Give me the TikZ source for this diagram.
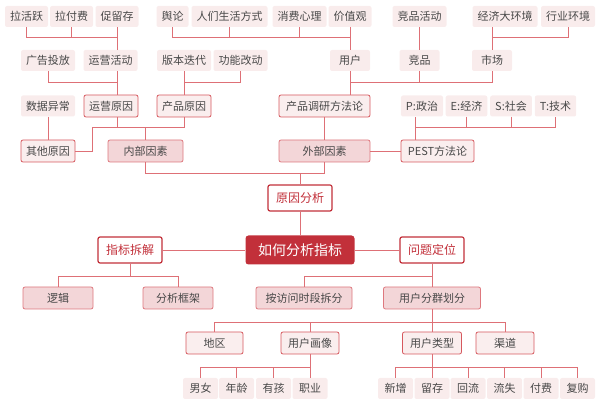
\documentclass[tikz,border=0pt]{standalone}
\usepackage{fontspec}
\setmainfont{Noto Sans CJK SC}
\usepackage{xcolor}
\usetikzlibrary{positioning}

\definecolor{zhred}{RGB}{194,48,58}
\definecolor{boxred}{RGB}{214,88,94}
\definecolor{midred}{RGB}{222,120,126}
\definecolor{linered}{RGB}{222,112,118}
\definecolor{leaffill}{RGB}{249,236,236}
\definecolor{subfill}{RGB}{250,238,238}
\definecolor{pinkfill}{RGB}{243,214,216}
\definecolor{txtgray}{RGB}{72,72,72}

\tikzset{
  leaf/.style={fill=leaffill, text=txtgray, rounded corners=2pt,
    font=\fontsize{11}{13}\selectfont, inner xsep=5pt, inner ysep=0pt,
    minimum height=21pt},
  sub/.style={leaf, fill=subfill, draw=boxred, line width=0.8pt, minimum height=22pt},
  mid/.style={sub, fill=pinkfill, draw=midred},
  topic/.style={draw=zhred, line width=1.2pt, fill=white, text=zhred,
    rounded corners=2pt, minimum width=64pt, minimum height=26pt,
    font=\fontsize{12}{14}\selectfont},
  root/.style={fill=zhred, text=white, rounded corners=3pt,
    minimum width=109pt, minimum height=29pt,
    font=\fontsize{14}{16}\selectfont},
  conn/.style={draw=linered, line width=0.8pt}
}

\begin{document}
\begin{tikzpicture}[x=1pt,y=-1pt]
\useasboundingbox (0,0) rectangle (603,411);

% top row
\node[leaf] (lhy) at (26.5,16.5) {拉活跃};
\node[leaf] (lff) at (71.5,16.5) {拉付费};
\node[leaf] (cuc) at (117,16.5) {促留存};
\node[leaf] (yl) at (172.5,16.5) {舆论};
\node[leaf] (rmsh) at (229.5,16.5) {人们生活方式};
\node[leaf] (xfxl) at (299.5,16.5) {消费心理};
\node[leaf] (jzg) at (350,16.5) {价值观};
\node[leaf] (jphd) at (419.5,16.5) {竞品活动};
\node[leaf] (jjdhj) at (505,16.5) {经济大环境};
\node[leaf] (hyhj) at (568,16.5) {行业环境};

% second row
\node[leaf] (ggtf) at (48,60.5) {广告投放};
\node[leaf] (yyhd) at (110.5,60.5) {运营活动};
\node[leaf] (bbdd) at (184,60.5) {版本迭代};
\node[leaf] (gngd) at (240.5,60.5) {功能改动};
\node[leaf, minimum width=40pt] (yh) at (350,60.5) {用户};
\node[leaf, minimum width=40pt] (jp) at (419.5,60.5) {竞品};
\node[leaf, minimum width=40pt] (sc) at (492,60.5) {市场};

% third row
\node[leaf] (sjyc) at (48,106) {数据异常};
\node[sub] (yyyy) at (111,106) {运营原因};
\node[sub] (cpyy) at (184,106) {产品原因};
\node[sub, minimum width=91pt] (cpdy) at (324.5,106) {产品调研方法论};
\node[leaf] (pzz) at (422,106) {P:政治};
\node[leaf] (ejj) at (466.5,106) {E:经济};
\node[leaf] (ssh) at (511,106) {S:社会};
\node[leaf] (tjs) at (555.5,106) {T:技术};

% fourth row
\node[sub] (qtyy) at (48,151) {其他原因};
\node[mid, minimum width=75pt] (nbys) at (145.5,151) {内部因素};
\node[mid, minimum width=91pt] (wbys) at (324.5,151) {外部因素};
\node[sub, minimum width=73pt] (pest) at (437.5,151) {PEST方法论};

% main topics
\node[topic] (yyfx) at (300,198) {原因分析};
\node[root] (root) at (300,250) {如何分析指标};
\node[topic] (zbcj) at (130,250) {指标拆解};
\node[topic] (wtdw) at (432,250) {问题定位};

% lower rows
\node[mid, minimum width=70pt] (lj) at (58,298) {逻辑};
\node[mid, minimum width=70pt] (fxkj) at (178,298) {分析框架};
\node[mid, minimum width=96pt] (afw) at (304,298) {按访问时段拆分};
\node[mid, minimum width=97pt] (yhfq) at (432,298) {用户分群划分};

\node[sub, minimum width=57pt] (dq) at (214.5,343) {地区};
\node[sub, minimum width=58pt] (yhhx) at (310,343) {用户画像};
\node[sub, minimum width=59pt] (yhlx) at (432,343) {用户类型};
\node[sub, minimum width=58pt] (qd) at (505,343) {渠道};

\node[leaf, minimum width=35pt] (nn) at (200.5,388.5) {男女};
\node[leaf, minimum width=35pt] (nl) at (236.5,388.5) {年龄};
\node[leaf, minimum width=35pt] (yhz) at (273.5,388.5) {有孩};
\node[leaf, minimum width=35pt] (zy) at (310,388.5) {职业};
\node[leaf, minimum width=35pt] (xz) at (395.5,388.5) {新增};
\node[leaf, minimum width=35pt] (lc) at (432,388.5) {留存};
\node[leaf, minimum width=35pt] (hl) at (468,388.5) {回流};
\node[leaf, minimum width=35pt] (ls) at (504.5,388.5) {流失};
\node[leaf, minimum width=35pt] (ff) at (541,388.5) {付费};
\node[leaf, minimum width=35pt] (fg) at (577.5,388.5) {复购};

% bar levels
\coordinate (barA) at (0,37);
\coordinate (barB) at (0,82);
\coordinate (barC) at (0,127);
\coordinate (barD) at (0,173);
\coordinate (barE) at (0,276);
\coordinate (barF) at (0,322.5);
\coordinate (barG) at (0,367);
\coordinate (jq) at (92,127);
\coordinate (jt) at (415,127);

% 运营活动
\draw[conn] (lhy.south) |- (cuc.south |- barA);
\draw[conn] (lff.south) -- (lff.south |- barA);
\draw[conn] (cuc.south) -- (cuc.south |- yyhd.north);
% 用户
\draw[conn] (yl.south) |- (jzg.south |- barA);
\draw[conn] (rmsh.south) -- (rmsh.south |- barA);
\draw[conn] (xfxl.south) -- (xfxl.south |- barA);
\draw[conn] (jzg.south) -- (jzg.south |- yh.north);
% 竞品, 市场
\draw[conn] (jphd.south) -- (jp.north);
\draw[conn] (sc.north) -- (sc.north |- jjdhj.south);
\draw[conn] (hyhj.south) |- (sc.north |- barA);
% 运营原因
\draw[conn] (ggtf.south) |- (cuc.south |- barB);
\draw[conn] (cuc.south |- yyhd.south) -- (cuc.south |- yyyy.north);
% 产品原因
\draw[conn] (gngd.south) |- (bbdd.south |- barB);
\draw[conn] (bbdd.south) -- (cpyy.north);
% 产品调研方法论
\draw[conn] (sc.south) |- (yh.south |- barB);
\draw[conn] (jp.south) -- (jp.south |- barB);
\draw[conn] (yh.south) -- (yh.south |- cpdy.north);
% 内部因素
\draw[conn] (cuc.south |- yyyy.south) -- (cuc.south |- barC);
\draw[conn] (qtyy.east) -| (jq) -- (cpyy.south |- jq) -- (cpyy.south);
\draw[conn] (nbys.north) -- (nbys.north |- jq);
\draw[conn] (sjyc) -- (qtyy);
% PEST
\draw[conn] (pest.north -| jt) -- (pzz.south -| jt);
\draw[conn] (jt) -| (tjs.south);
\draw[conn] (ejj.south) -- (ejj.south |- jt);
\draw[conn] (ssh.south) -- (ssh.south |- jt);
% 外部因素
\draw[conn] (cpdy.south) -- (wbys.north);
\draw[conn] (wbys.east) -- (pest.west);
% 原因分析
\draw[conn] (nbys.south) |- (wbys.south |- barD) -- (wbys.south);
\draw[conn] (yyfx.north |- barD) -- (yyfx.north);
\draw[conn] (yyfx) -- (root);
\draw[conn] (zbcj) -- (root);
\draw[conn] (root) -- (wtdw);
% 指标拆解
\draw[conn] (zbcj.south) -- (zbcj.south |- barE);
\draw[conn] (lj.north) |- (fxkj.north |- barE) -- (fxkj.north);
% 问题定位
\draw[conn] (afw.north) |- (wtdw.south |- barE);
\draw[conn] (wtdw.south) -- (yhfq.north);
% 用户分群划分
\draw[conn] (yhfq.south) -- (yhlx.north);
\draw[conn] (dq.north) |- (qd.north |- barF) -- (qd.north);
\draw[conn] (yhhx.north) -- (yhhx.north |- barF);
% 用户画像
\draw[conn] (yhhx.south) -- (zy.north);
\draw[conn] (nn.north) |- (zy.north |- barG);
\draw[conn] (nl.north) -- (nl.north |- barG);
\draw[conn] (yhz.north) -- (yhz.north |- barG);
% 用户类型
\draw[conn] (yhlx.south) -- (lc.north);
\draw[conn] (xz.north) |- (fg.north |- barG) -- (fg.north);
\draw[conn] (hl.north) -- (hl.north |- barG);
\draw[conn] (ls.north) -- (ls.north |- barG);
\draw[conn] (ff.north) -- (ff.north |- barG);
\end{tikzpicture}
\end{document}
